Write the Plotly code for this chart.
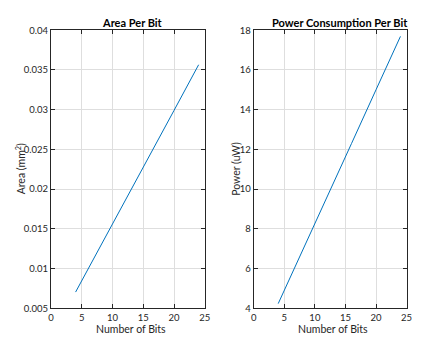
import plotly.graph_objects as go

bits = [4, 8, 12, 16, 20, 24]
area = [0.00703, 0.0127, 0.0185, 0.0242, 0.0299, 0.03565]
power = [4.23, 6.9, 9.6, 12.3, 15.0, 17.69]

area_ticks = [0.005, 0.01, 0.015, 0.02, 0.025, 0.03, 0.035, 0.04]
area_labels = ["0.005", "0.01", "0.015", "0.02", "0.025", "0.03", "0.035", "0.04"]
power_ticks = [4, 6, 8, 10, 12, 14, 16, 18]
x_ticks = [0, 5, 10, 15, 20, 25]

FONT = "Lato"
BLUE = "#0072BD"

fig = go.Figure()
fig.add_trace(go.Scatter(x=bits, y=area, mode="lines", line=dict(color=BLUE, width=1),
                         xaxis="x", yaxis="y", showlegend=False))
fig.add_trace(go.Scatter(x=bits, y=power, mode="lines", line=dict(color=BLUE, width=1),
                         xaxis="x2", yaxis="y2", showlegend=False))

ax_common = dict(showline=True, linecolor="#262626", linewidth=1, mirror="ticks",
                 ticks="inside", ticklen=4, tickcolor="#262626",
                 showgrid=True, gridcolor="#dedede", gridwidth=1, zeroline=False,
                 tickfont=dict(family=FONT, size=9.5, color="#262626"))

ydom = [1 - 312 / 350, 1 - 25 / 350]
fig.update_layout(
    width=440, height=350,
    margin=dict(l=0, r=0, t=0, b=0),
    paper_bgcolor="white", plot_bgcolor="white",
    xaxis=dict(domain=[49 / 440, 206 / 440], range=[0, 25], tickvals=x_ticks, anchor="y", **ax_common),
    yaxis=dict(domain=ydom, range=[0.005, 0.04], tickvals=area_ticks, ticktext=area_labels,
               anchor="x", **ax_common),
    xaxis2=dict(domain=[256 / 440, 412 / 440], range=[0, 25], tickvals=x_ticks, anchor="y2", **ax_common),
    yaxis2=dict(domain=ydom, range=[4, 18], tickvals=power_ticks, anchor="x2", **ax_common),
)

ann_font = dict(family=FONT, size=10.5, color="#262626")
annotations = [
    dict(text="<b>Area Per Bit</b>", x=132, y=350 - 17, font=dict(family=FONT, size=11, color="black")),
    dict(text="<b>Power Consumption Per Bit</b>", x=344, y=350 - 17, font=dict(family=FONT, size=11, color="black")),
    dict(text="Number of Bits", x=131, y=350 - 333, font=ann_font),
    dict(text="Number of Bits", x=337, y=350 - 333, font=ann_font),
    dict(text="Area (mm<sup>2</sup>)", x=18, y=350 - 168, textangle=-90, font=ann_font),
    dict(text="Power (uW)", x=238, y=350 - 168, textangle=-90, font=ann_font),
]
for a in annotations:
    a["x"] = a["x"] / 440
    a["y"] = a["y"] / 350
    fig.add_annotation(xref="paper", yref="paper", showarrow=False,
                       xanchor="center", yanchor="middle", **a)

fig.write_html("out.html")
